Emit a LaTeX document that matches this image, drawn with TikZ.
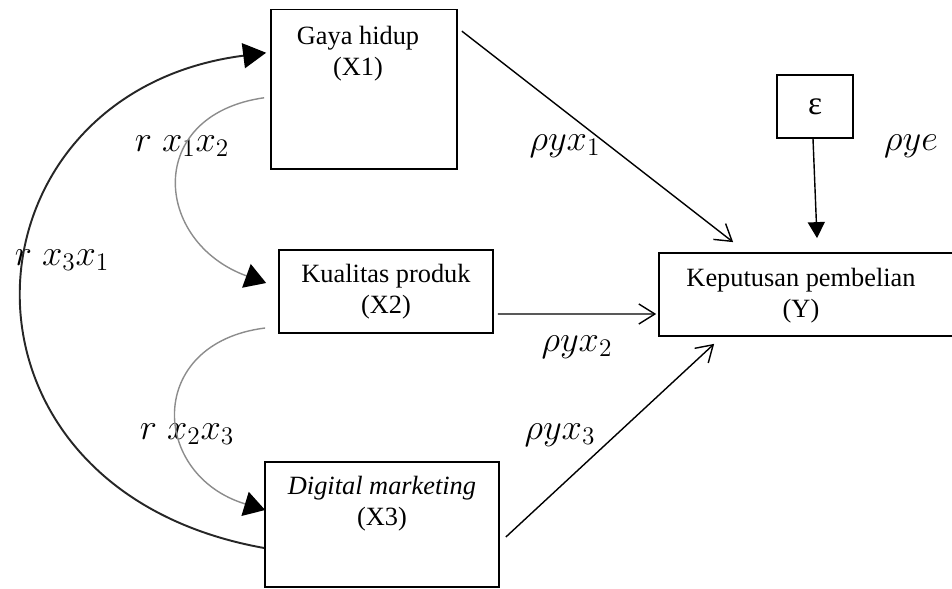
\documentclass[tikz,border=0pt]{standalone}
\usepackage{fontspec}
\setmainfont{Liberation Serif}
\usetikzlibrary{arrows.meta,positioning}
\tikzstyle{block} = [draw, rectangle, line width=1pt, inner sep=0pt]
\tikzstyle{txt} = [align=center, inner sep=0pt, font=\fontsize{15}{17.6}\selectfont]
\tikzstyle{coef} = [inner sep=0pt, font=\fontsize{21}{25}\selectfont]
\tikzstyle{effect} = [line width=0.8pt, -{Straight Barb[length=0.32cm,width=0.4cm]}]
\tikzstyle{corr} = [line width=1.1pt, black!85, -{Triangle[length=0.46cm,width=0.5cm,color=black]}]
\tikzstyle{corrlight} = [line width=0.8pt, black!45, -{Triangle[length=0.42cm,width=0.5cm,color=black]}]

\begin{document}
\begin{tikzpicture}[x=0.02cm, y=0.02cm]
    \useasboundingbox (0,0) rectangle (952,-588);
    % Variables
    \node [block, minimum width=3.72cm, minimum height=3.19cm] (x1) at (364,-89.25) {};
    \node [txt] (x1txt) at (358,-53.5) {Gaya hidup\\(X1)};
    \node [block, txt, minimum width=4.28cm, minimum height=1.66cm] (x2) at (386,-291.5) {Kualitas produk\\(X2)};
    \node [block, minimum width=4.68cm, minimum height=2.5cm] (x3) at (382,-524.5) {};
    \node [txt] (x3txt) at (382,-504) {\textit{Digital marketing}\\(X3)};
    \node [block, minimum width=6.02cm, minimum height=1.66cm] (y) at (809.5,-294.5) {};
    \node [txt] (ytxt) at (801,-296) {Keputusan pembelian\\(Y)};
    \node [block, minimum width=1.52cm, minimum height=1.26cm, font=\fontsize{19}{22}\selectfont] (eps) at (815,-106.5) {ε};

    % Coefficients
    \node [coef] (pyx1) at (565,-146) {$\rho y x_1$};
    \node [coef] (pyx2) at (577,-347) {$\rho y x_2$};
    \node [coef] (pyx3) at (560,-435) {$\rho y x_3$};
    \node [coef] (pye) at (911,-146) {$\rho y e$};
    \node [coef] (rx1x2) at (182,-146) {$r\;x_1x_2$};
    \node [coef] (rx3x1) at (62,-260) {$r\;x_3x_1$};
    \node [coef] (rx2x3) at (187,-434) {$r\;x_2x_3$};

    % Paths
    \draw [effect] ([xshift=0.08cm,yshift=-0.45cm]x1.north east) -- ([xshift=1.5cm,yshift=0.2cm]y.north west);
    \draw [effect] ([xshift=0.08cm,yshift=-0.45cm]x2.east) -- ([xshift=-0.04cm,yshift=-0.39cm]y.west);
    \draw [effect] ([xshift=0.12cm,yshift=-0.25cm]x3.east) -- ([xshift=1.12cm,yshift=-0.14cm]y.south west);
    \draw [line width=0.8pt, -{Triangle[length=0.32cm,width=0.34cm]}] ([xshift=-0.04cm]eps.south) -- ([xshift=0.15cm,yshift=0.28cm]y.north);

    % Correlations
    \draw [corr] ([yshift=-0.47cm]x3.west) .. controls +(-335,60) and +(-312,-40) .. ([xshift=-0.08cm,yshift=0.73cm]x1.west);
    \draw [corrlight] ([xshift=-0.12cm,yshift=-0.17cm]x1.west) .. controls +(-120,-17) and +(-113,41) .. ([xshift=-0.24cm,yshift=0.17cm]x2.west);
    \draw [corrlight] ([xshift=-0.26cm,yshift=-0.73cm]x2.west) .. controls +(-120,-15) and +(-115,35) .. ([xshift=0.02cm,yshift=0.29cm]x3.west);
\end{tikzpicture}
\end{document}
